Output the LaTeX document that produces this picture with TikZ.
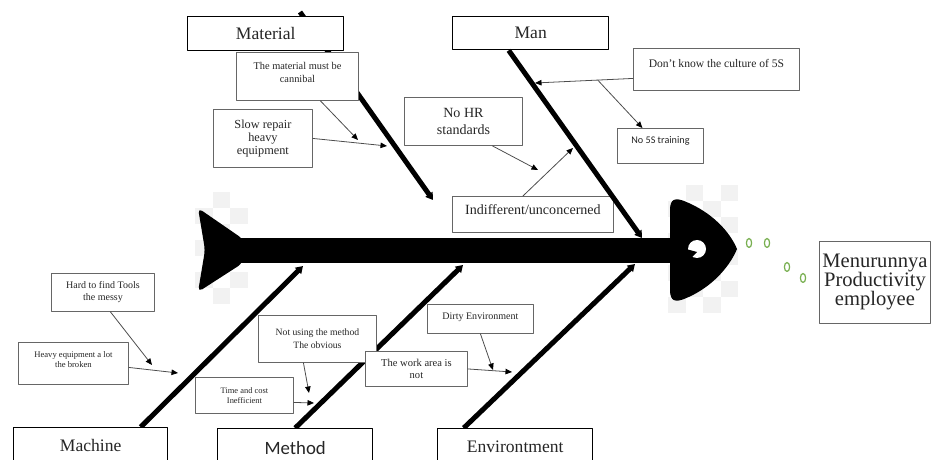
\documentclass[tikz,border=0pt]{standalone}
\usepackage{fontspec}
\setmainfont{Liberation Serif}
\newfontfamily\calfont{Carlito}
\usetikzlibrary{arrows.meta,backgrounds}
\newcommand{\fsz}[2]{\fontsize{#1}{#2}\selectfont}
\begin{document}
\begin{tikzpicture}[x=0.2mm, y=-0.2mm, line cap=round, line join=round, font=\fsz{10}{12}, text=black!85]
  \tikzset{
    cat/.style={draw=black, line width=0.8pt, fill=white, inner sep=0pt, anchor=north west},
    note/.style={draw=black!60, line width=0.5pt, fill=white, inner sep=0pt, anchor=north west, align=center},
    toplab/.style={anchor=north, align=center, inner sep=0pt},
    bone/.style={line width=1mm, line cap=butt, -{Triangle[length=1.4mm, width=1.7mm]}},
    cause/.style={draw=black!70, line width=0.45pt, -{Triangle[length=1.3mm, width=1.1mm, color=black]}},
    bubble/.style={draw={rgb,255:red,120;green,175;blue,80}, line width=0.7pt},
    chk/.style={fill=black!5},
  }
  \useasboundingbox (0,0) rectangle (931,460);

  % category boxes
  \node[cat, minimum width=31.2mm, minimum height=6.8mm] (material) at (187,16) {Material};
  \node[cat, minimum width=31.2mm, minimum height=6.6mm] (man) at (452,16) {Man};
  \node[cat, minimum width=30.8mm, minimum height=7.2mm] (machine) at (13,427) {Machine};
  \node[cat, minimum width=31mm, minimum height=7.6mm, font=\calfont\fsz{10.7}{12}] (method) at (217,428) {Method};
  \node[cat, minimum width=31mm, minimum height=7.2mm] (environment) at (437,428) {Environtment};

  % material causes
  \node[note, minimum width=24.4mm, minimum height=9.6mm,
    label={[toplab, name=mat1t, font=\fsz{5.9}{7.5}, yshift=-1.9mm]north:The material must be\\cannibal}] (mat1) at (236,52) {};
  \node[note, minimum width=19.8mm, minimum height=11.6mm, font=\fsz{7}{7.6}] (mat2) at (213,109) {Slow repair\\heavy\\equipment};

  % man causes
  \node[note, minimum width=23.6mm, minimum height=9.6mm, font=\fsz{8}{10}] (man1) at (404,97) {No HR\\standards};
  \node[note, minimum width=32.2mm, minimum height=7.2mm,
    label={[toplab, name=man2t, font=\fsz{8}{10}, yshift=-1.6mm]north:Indifferent/unconcerned}] (man2) at (452,196) {};
  \node[note, minimum width=33.2mm, minimum height=8.4mm,
    label={[toplab, name=man3t, font=\fsz{6.6}{8}, yshift=-2.2mm]north:Don't know the culture of 5S}] (man3) at (633,48) {};
  \node[note, minimum width=17.2mm, minimum height=7mm,
    label={[toplab, name=man4t, font=\calfont\fsz{5.8}{7}, yshift=-1.7mm]north:No 5S training}] (man4) at (617,128) {};

  % machine causes
  \node[note, minimum width=20.6mm, minimum height=7.6mm, font=\fsz{5.7}{6.8}] (mac1) at (51,273) {Hard to find Tools\\the messy};
  \node[note, minimum width=22mm, minimum height=8.4mm,
    label={[toplab, name=mac2t, font=\fsz{4.9}{5.7}, yshift=-1.8mm]north:Heavy equipment a lot\\the broken}] (mac2) at (18,342) {};

  % method causes
  \node[note, minimum width=23.6mm, minimum height=9.4mm, font=\fsz{5.5}{7.5}] (met1) at (258,315) {Not using the method\\The obvious};
  \node[note, minimum width=19.6mm, minimum height=7.2mm, font=\fsz{4.8}{5.7}] (met2) at (195,377) {Time and cost\\Inefficient};

  % environment causes
  \node[note, minimum width=20.4mm, minimum height=7mm, font=\fsz{6}{6.4}] (env1) at (365,351) {The work area is\\not};
  \node[note, minimum width=21.2mm, minimum height=5.8mm,
    label={[toplab, name=env2t, font=\fsz{5.7}{7}, yshift=-1.7mm]north:Dirty Environment}] (env2) at (427,304) {};

  % effect
  \node[note, minimum width=22.2mm, minimum height=16.4mm, font=\fsz{11.7}{10.8}] (effect) at (819,241) {Menurunnya\\Productivity\\employee};

  \begin{scope}[on background layer]
    % checker behind tail and head
    \foreach \i in {0,1,2} \foreach \j in {0,...,6} {
      \pgfmathtruncatemacro\odd{mod(\i+\j,2)}
      \ifnum\odd=1 \fill[chk] (195+17.5*\i,192+16*\j) rectangle ++(17.5,16); \fi
    }
    \foreach \i in {0,...,3} \foreach \j in {0,...,7} {
      \pgfmathtruncatemacro\odd{mod(\i+\j,2)}
      \ifnum\odd=1 \fill[chk] (668+17.5*\i,185+16*\j) rectangle ++(17.5,16); \fi
    }
    % spine, tail, head
    \fill (240,238) rectangle (672,263);
    \fill[rounded corners=1mm] (198,208) -- (243,239) -- (243,263) -- (198,292) -- (205,250) -- cycle;
    \fill (670,210) .. controls (670,198) and (676,198) .. (684,201)
      .. controls (712,212) and (730,232) .. (737,249)
      .. controls (730,266) and (712,288) .. (684,299)
      .. controls (676,302) and (670,302) .. (670,290) -- cycle;
    \fill[white] (697,249) circle [radius=9];
    \fill (686,249) -- (697,252) -- (690,259) -- cycle;
    % bones
    \coordinate (matTop) at (300,12);
    \coordinate (matEnd) at (433,200);
    \coordinate (macEnd) at (303,266);
    \coordinate (metEnd) at (463,265);
    \coordinate (envEnd) at (635,264);
    \draw[bone] (matTop) -- (matEnd);
    \draw[bone] ([xshift=10mm]machine.north) -- (macEnd);
    \draw[bone] (method.north) -- (metEnd);
    \draw[bone] ([xshift=-10.3mm]environment.north) -- (envEnd);
  \end{scope}

  \coordinate (manEnd) at (642,238);
  \draw[bone] ([xshift=-4.4mm]man.south) -- (manEnd);

  % points on the bones
  \coordinate (matB1) at (358,140);
  \coordinate (matB2) at (387,146);
  \coordinate (manB1) at (538,170);
  \coordinate (manB2) at (535,83);
  \coordinate (manB3) at (573,148);
  \coordinate (macB1) at (152,365);
  \coordinate (macB2) at (178,373);
  \coordinate (metB1) at (309,393);
  \coordinate (metB2) at (314,403);
  \coordinate (envB1) at (493,370);
  \coordinate (envB2) at (512,372);

  \draw[cause] ([xshift=4.6mm]mat1.south) -- (matB1);
  \draw[cause] (mat2.east) -- (matB2);
  \draw[cause] ([xshift=5.8mm]man1.south) -- (manB1);
  \draw[cause] ([xshift=-2mm]man2.north) -- (manB3);
  \draw[cause] ([yshift=-1.8mm]man3.west) -- coordinate[pos=0.36] (knowsplit) (manB2);
  \draw[cause] (knowsplit) -- ([xshift=-3.6mm]man4.north);
  \draw[cause] ([xshift=1.5mm]mac1.south) -- (macB1);
  \draw[cause] ([yshift=-0.8mm]mac2.east) -- (macB2);
  \draw[cause] ([xshift=-2.8mm]met1.south) -- (metB1);
  \draw[cause] ([yshift=-1.4mm]met2.east) -- (metB2);
  \draw[cause] (env2.south) -- (envB1);
  \draw[cause] (env1.east) -- (envB2);

  % bubbles
  \draw[bubble] (749,243) ellipse [x radius=2.6, y radius=4.5];
  \draw[bubble] (767,243) ellipse [x radius=2.6, y radius=4.5];
  \draw[bubble] (787,267) ellipse [x radius=2.6, y radius=4.5];
  \draw[bubble] (803,278) ellipse [x radius=2.6, y radius=4.5];
\end{tikzpicture}
\end{document}
